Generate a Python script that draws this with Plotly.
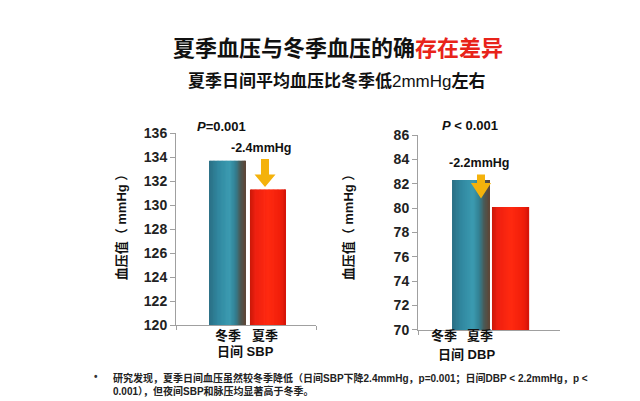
import plotly.graph_objects as go

# ---------------- data ----------------
categories = ["冬季", "夏季"]
sbp_values = [133.7, 131.3]
dbp_values = [82.3, 80.1]
sbp_ticks = [120, 122, 124, 126, 128, 130, 132, 134, 136]
dbp_ticks = [70, 72, 74, 76, 78, 80, 82, 84, 86]
sbp_label = "日间 SBP"
dbp_label = "日间 DBP"
sbp_p = "<i>P</i>=0.001"
dbp_p = "<i>P</i> &lt; 0.001"
sbp_diff = "-2.4mmHg"
dbp_diff = "-2.2mmHg"
ytitle = "血压值（ mmHg ）"
title_black = "夏季血压与冬季血压的确"
title_red = "存在差异"
subtitle = "夏季日间平均血压比冬季低<span style='font-weight:normal'>2mmHg</span>左右"
note_line1 = "研究发现，夏季日间血压虽然较冬季降低（日间SBP下降2.4mmHg，p=0.001；日间DBP &lt; 2.2mmHg，p &lt;"
note_line2 = "0.001），但夜间SBP和脉压均显著高于冬季。"

W, H = 640, 401
FONT = "Liberation Sans, Arial, Noto Sans CJK SC, sans-serif"


def px(x):
    return x / W


def py(y):
    return 1 - y / H


def hex2rgb(h):
    h = h.lstrip("#")
    return tuple(int(h[i:i + 2], 16) for i in (0, 2, 4))


def interp(stops, t):
    for (t0, c0), (t1, c1) in zip(stops, stops[1:]):
        if t0 <= t <= t1:
            f = (t - t0) / (t1 - t0) if t1 > t0 else 0
            a, b = hex2rgb(c0), hex2rgb(c1)
            return "rgb(%d,%d,%d)" % tuple(round(a[i] + (b[i] - a[i]) * f) for i in range(3))
    return stops[-1][1]


winter_stops = [(0, "#2a6e84"), (0.25, "#3188a0"), (0.55, "#3b9bb1"), (0.72, "#327f92"),
                (0.86, "#4d5650"), (1.0, "#5e4536")]
summer_stops = [(0, "#c81808"), (0.15, "#ee2010"), (0.5, "#ff2a10"), (0.85, "#f01e0a"), (1.0, "#d41408")]


def gradient_bar(xpos, val, width, stops, xa, ya, N=28):
    step = width / N
    offsets = [-width / 2 + i * step for i in range(N)]
    widths = [step * 1.6 if i < N - 1 else step for i in range(N)]
    colors = [interp(stops, (i + 0.5) / N) for i in range(N)]
    return go.Bar(x=[xpos] * N, y=[val] * N, offset=offsets, width=widths,
                  marker=dict(color=colors, line=dict(width=0)),
                  xaxis=xa, yaxis=ya, showlegend=False, hoverinfo="skip")


fig = go.Figure()
fig.add_trace(gradient_bar(0, sbp_values[0], 0.91, winter_stops, "x", "y"))
fig.add_trace(gradient_bar(1, sbp_values[1], 0.89, summer_stops, "x", "y"))
fig.add_trace(gradient_bar(0, dbp_values[0], 0.96, winter_stops, "x2", "y2"))
fig.add_trace(gradient_bar(1, dbp_values[1], 0.94, summer_stops, "x2", "y2"))

axis_common = dict(showline=True, linecolor="#a0a0a0", linewidth=1, showgrid=False,
                   zeroline=False)
tickfont = dict(family=FONT, size=14, color="#222222", weight="bold")

fig.update_layout(
    width=W, height=H, margin=dict(l=0, r=0, t=0, b=0),
    paper_bgcolor="white", plot_bgcolor="white", barmode="overlay",
    xaxis=dict(domain=[px(168), px(308)], range=[-1.27, 2.185], anchor="y",
               tickvals=[-1.27, 2.185], ticks="outside", ticklen=4, tickcolor="#a0a0a0",
               showticklabels=False, **axis_common),
    yaxis=dict(domain=[py(322), py(122)], range=[120, 136], anchor="x",
               tickvals=sbp_ticks, ticks="outside", ticklen=5, tickcolor="#a0a0a0",
               tickfont=tickfont, **axis_common),
    xaxis2=dict(domain=[px(410), px(552)], range=[-1.34, 2.25], anchor="y2",
                tickvals=[-1.34], ticks="outside", ticklen=4, tickcolor="#a0a0a0",
                showticklabels=False, **axis_common),
    yaxis2=dict(domain=[py(327), py(124)], range=[70, 86], anchor="x2",
                tickvals=dbp_ticks, ticks="outside", ticklen=5, tickcolor="#a0a0a0",
                tickfont=tickfont, **axis_common),
)

ann = []


def text(x, y, s, size=13, color="#111111", bold=True, xanchor="center", angle=0, align="center"):
    ann.append(dict(x=px(x), y=py(y), xref="paper", yref="paper", text=s, showarrow=False,
                    xanchor=xanchor, yanchor="middle", textangle=angle, align=align,
                    font=dict(family=FONT, size=size, color=color,
                              weight="bold" if bold else "normal")))


# titles
text(330, 34, title_black + "<span style='color:#e8231a'>" + title_red + "</span>", size=22)
text(329, 68, subtitle, size=17)

# left chart texts
text(213, 115, sbp_p, size=13)
text(253, 137, sbp_diff, size=12.5)
text(220, 333, categories[0], size=13)
text(257, 333, categories[1], size=13)
text(237, 349, sbp_label, size=13)
text(113, 217, ytitle, size=13, angle=-90)

# right chart texts
text(462, 114, dbp_p, size=13)
text(471, 153, dbp_diff, size=12.5)
text(436, 333, categories[0], size=13)
text(472, 333, categories[1], size=13)
text(458, 353, dbp_label, size=13)
text(340, 217, ytitle, size=13, angle=-90)

# footnote
text(88, 376, "•", size=10, color="#333333")
text(103, 383.5, note_line1 + "<br>" + note_line2, size=10, color="#222222",
     xanchor="left", align="left")

fig.update_layout(annotations=ann)


# arrows (decorative)
def arrow(cx, top, head_top, tip, shaft_w, head_w):
    pts = [(cx - shaft_w / 2, top), (cx + shaft_w / 2, top), (cx + shaft_w / 2, head_top),
           (cx + head_w / 2, head_top), (cx, tip), (cx - head_w / 2, head_top),
           (cx - shaft_w / 2, head_top)]
    path = "M " + " L ".join("%.4f,%.4f" % (px(a), py(b)) for a, b in pts) + " Z"
    return dict(type="path", path=path, xref="paper", yref="paper",
                fillcolor="#f4b20c", line=dict(width=0), layer="above")


fig.update_layout(shapes=[arrow(257, 149, 165, 178, 8, 21),
                          arrow(473, 165, 174, 190, 8, 20)])

fig.write_html("out.html")
